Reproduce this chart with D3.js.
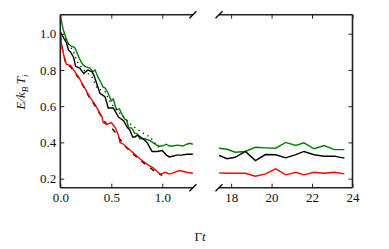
<!DOCTYPE html>
<html><head><meta charset="utf-8">
<script src="https://cdn.jsdelivr.net/npm/d3@7"></script>
<style>body{margin:0;background:#fff}svg{display:block}svg text{font-family:"Liberation Serif",serif}</style>
</head><body>
<svg id="c" width="389" height="249"></svg>
<script>
// ---- data ----
const earlyGreen = [[0,1.10],[0.03,1.02],[0.06,0.97],[0.08,0.945],[0.11,0.93],[0.14,0.925],[0.16,0.90],[0.19,0.86],[0.22,0.83],[0.24,0.82],[0.29,0.81],[0.32,0.79],[0.34,0.80],[0.37,0.76],[0.39,0.74],[0.42,0.705],[0.44,0.70],[0.47,0.67],[0.50,0.63],[0.52,0.64],[0.55,0.58],[0.58,0.585],[0.60,0.56],[0.63,0.53],[0.65,0.525],[0.67,0.48],[0.70,0.48],[0.73,0.45],[0.75,0.45],[0.78,0.42],[0.83,0.42],[0.88,0.41],[0.92,0.395],[0.96,0.38],[1.0,0.38],[1.04,0.39],[1.07,0.38],[1.1,0.38],[1.15,0.385],[1.2,0.38],[1.24,0.39],[1.27,0.395],[1.3,0.39]];
const earlyBlack = [[0,1.01],[0.03,0.98],[0.06,0.95],[0.08,0.91],[0.1,0.90],[0.13,0.87],[0.15,0.82],[0.19,0.81],[0.23,0.78],[0.27,0.80],[0.31,0.79],[0.33,0.77],[0.36,0.72],[0.39,0.67],[0.42,0.66],[0.44,0.65],[0.47,0.59],[0.52,0.59],[0.57,0.54],[0.62,0.52],[0.66,0.48],[0.68,0.47],[0.71,0.43],[0.73,0.43],[0.76,0.44],[0.81,0.42],[0.85,0.40],[0.88,0.37],[0.9,0.35],[0.95,0.35],[1.0,0.355],[1.04,0.33],[1.07,0.32],[1.11,0.325],[1.14,0.33],[1.19,0.33],[1.24,0.335],[1.3,0.335]];
const earlyRed = [[0,1.0],[0.01,0.95],[0.03,0.89],[0.06,0.83],[0.1,0.825],[0.13,0.80],[0.18,0.76],[0.23,0.71],[0.26,0.68],[0.29,0.65],[0.34,0.61],[0.37,0.58],[0.41,0.54],[0.42,0.51],[0.455,0.50],[0.50,0.51],[0.54,0.48],[0.57,0.44],[0.585,0.40],[0.62,0.39],[0.65,0.375],[0.72,0.34],[0.78,0.31],[0.85,0.28],[0.91,0.26],[0.98,0.225],[1.03,0.235],[1.07,0.225],[1.12,0.235],[1.17,0.245],[1.24,0.235],[1.3,0.23]];
const earlyDotted = [[0.05,0.97],[0.13,0.90],[0.16,0.85],[0.23,0.80],[0.31,0.76],[0.36,0.70],[0.44,0.68],[0.49,0.62],[0.57,0.57],[0.67,0.51],[0.75,0.475],[0.80,0.455],[0.88,0.43],[0.95,0.38],[1.0,0.36]];
const earlyDashed = [[0,0.99],[0.03,0.885],[0.06,0.825],[0.1,0.818],[0.13,0.795],[0.18,0.755],[0.23,0.705],[0.29,0.643],[0.34,0.603],[0.4,0.545],[0.45,0.502],[0.5,0.482],[0.55,0.448],[0.58,0.42],[0.65,0.37],[0.72,0.333],[0.8,0.295],[0.85,0.273],[0.91,0.247],[0.96,0.228],[1.0,0.218]];
const lateTimes = [17.4,17.8,18.2,18.7,19.2,19.7,20.2,20.7,21.2,21.6,22.1,22.6,23.1,23.6];
const lateGreen = [0.368,0.362,0.346,0.35,0.373,0.37,0.368,0.40,0.383,0.398,0.365,0.383,0.36,0.36];
const lateBlack = [0.328,0.31,0.318,0.35,0.30,0.333,0.332,0.315,0.333,0.35,0.332,0.324,0.324,0.313];
const lateRed = [0.232,0.23,0.23,0.23,0.213,0.226,0.254,0.221,0.235,0.221,0.235,0.23,0.235,0.226];
const yTicks = [0.2,0.4,0.6,0.8,1.0];
const xTicksLeft = [0.0,0.5,1.0];
const xTicksRight = [18,20,22,24];

// ---- layout ----
const svg = d3.select("#c");
const yTop = 14.7, yBot = 187.7;
const y = d3.scaleLinear().domain([0.15,1.105]).range([yBot, yTop]);
const xL = d3.scaleLinear().domain([0,1.3]).range([60.3,192.9]);
const xR = d3.scaleLinear().domain([17.4,24]).range([219,352.5]);
const axisCol = "#222", font = "Liberation Serif";

const defs = svg.append("defs");
defs.append("clipPath").attr("id","cl").append("rect").attr("x",60.3).attr("y",0).attr("width",192.9-60.3).attr("height",249);
defs.append("clipPath").attr("id","cr").append("rect").attr("x",219).attr("y",0).attr("width",352.5-219).attr("height",249);

function drawLine(g, data, xs, col, dash, w) {
  const line = d3.line().x(d=>xs(d[0])).y(d=>y(d[1]));
  g.append("path").datum(data).attr("d", line).attr("fill","none")
    .attr("stroke", col).attr("stroke-width", w||1.4).attr("stroke-dasharray", dash||null)
    .attr("stroke-linejoin","miter");
}
const gL = svg.append("g").attr("clip-path","url(#cl)");
drawLine(gL, earlyGreen, xL, "#008000");
drawLine(gL, earlyDotted, xL, "#000", "1.2,4", 1.3);
drawLine(gL, earlyBlack, xL, "#000");
drawLine(gL, earlyDashed, xL, "#000", "5,6", 1.4);
drawLine(gL, earlyRed, xL, "#ff0000");

const gR = svg.append("g").attr("clip-path","url(#cr)");
const zipL = v => lateTimes.map((t,i)=>[t, v[i]]);
drawLine(gR, zipL(lateGreen), xR, "#008000");
drawLine(gR, zipL(lateBlack), xR, "#000");
drawLine(gR, zipL(lateRed), xR, "#ff0000");

// ---- axes ----
const tl = 4;
const aL = svg.append("g");
aL.append("g").attr("transform",`translate(60.3,0)`).call(d3.axisLeft(y).tickValues(yTicks).tickSize(-tl).tickPadding(4).tickFormat(d3.format(".1f")));
aL.append("g").attr("transform",`translate(0,${yBot})`).call(d3.axisBottom(xL).tickValues(xTicksLeft).tickSize(-tl).tickPadding(5.5).tickFormat(d3.format(".1f")));
aL.append("g").attr("transform",`translate(0,${yTop})`).call(d3.axisTop(xL).tickValues(xTicksLeft).tickSize(-tl).tickFormat(""));
const aR = svg.append("g");
aR.append("g").attr("transform",`translate(352.5,0)`).call(d3.axisRight(y).tickValues(yTicks).tickSize(-tl).tickFormat(""));
aR.append("g").attr("transform",`translate(0,${yBot})`).call(d3.axisBottom(xR).tickValues(xTicksRight).tickSize(-tl).tickPadding(5.5).tickFormat(d3.format("d")));
aR.append("g").attr("transform",`translate(0,${yTop})`).call(d3.axisTop(xR).tickValues(xTicksRight).tickSize(-tl).tickFormat(""));

svg.selectAll(".domain").remove();
svg.selectAll(".tick line").attr("stroke", axisCol).attr("stroke-width",1);
svg.selectAll(".tick text").attr("fill","#111").style("font-family","'Liberation Serif', serif").style("font-size","13px");

// spines
const sp = svg.append("g").attr("stroke", axisCol).attr("stroke-width",1.6).attr("fill","none");
sp.append("line").attr("x1",60.3).attr("x2",192.9).attr("y1",yTop).attr("y2",yTop);
sp.append("line").attr("x1",60.3).attr("x2",192.9).attr("y1",yBot).attr("y2",yBot);
sp.append("line").attr("x1",60.3).attr("x2",60.3).attr("y1",yTop).attr("y2",yBot);
sp.append("line").attr("x1",219).attr("x2",352.5).attr("y1",yTop).attr("y2",yTop);
sp.append("line").attr("x1",219).attr("x2",352.5).attr("y1",yBot).attr("y2",yBot);
sp.append("line").attr("x1",352.5).attr("x2",352.5).attr("y1",yTop).attr("y2",yBot);
// break marks
const bk = svg.append("g").attr("stroke","#000").attr("stroke-width",1.3);
[[192.9,yTop],[192.9,yBot],[219,yTop],[219,yBot]].forEach(([cx,cy])=>{
  bk.append("line").attr("x1",cx-3.5).attr("y1",cy+3.5).attr("x2",cx+3.5).attr("y2",cy-3.5);
});

// labels
const xl = svg.append("text").attr("x",200).attr("y",240.5).attr("text-anchor","middle")
  .attr("font-size",13).attr("fill","#111");
xl.append("tspan").text("Γ");
xl.append("tspan").attr("font-style","italic").text("t");
const yl = svg.append("text").attr("transform","translate(25,92) rotate(-90)").attr("text-anchor","middle")
  .attr("font-size",13).attr("fill","#111").attr("font-style","italic");
yl.append("tspan").text("E/k");
yl.append("tspan").attr("font-size",9).attr("dy",3).text("B");
yl.append("tspan").attr("dy",-3).text("\u2009T");
yl.append("tspan").attr("font-size",9).attr("dy",3).text("i");
</script>
</body></html>
